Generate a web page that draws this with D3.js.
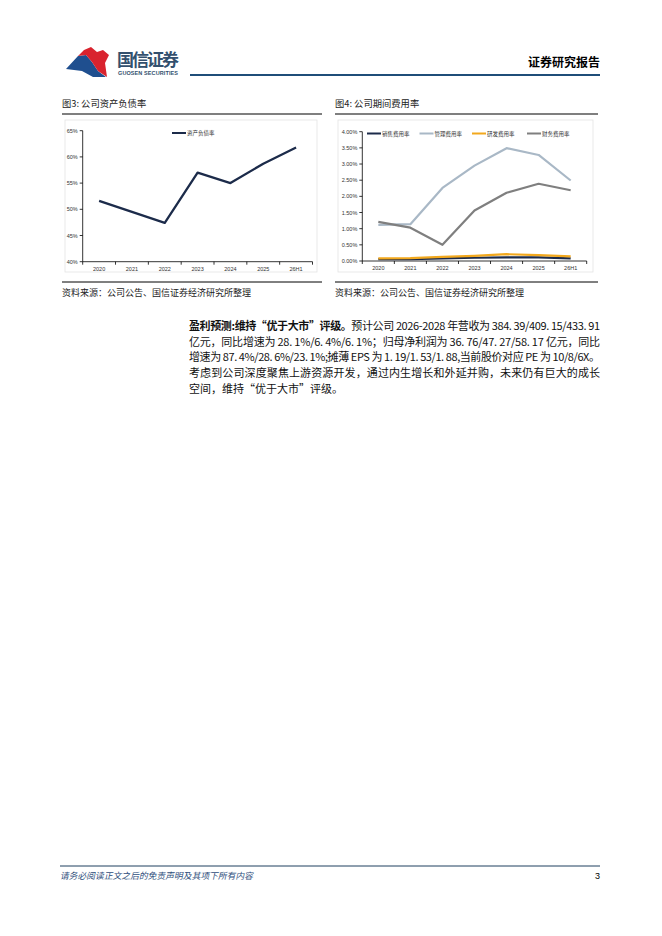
<!DOCTYPE html>
<html>
<head>
<meta charset="utf-8">
<script src="https://cdn.jsdelivr.net/npm/d3@7/dist/d3.min.js"></script>
<style>
  html, body { margin: 0; padding: 0; background: #fff; }
  svg { display: block; }
</style>
</head>
<body>
<div id="page"></div>
<script>
// chart data
var years = ["2020", "2021", "2022", "2023", "2024", "2025", "26H1"];
var debtRatio = [51.6, 49.5, 47.4, 57.0, 55.0, 58.7, 61.8];
var debtTicks = [40, 45, 50, 55, 60, 65];

var expNames = ["销售费用率", "管理费用率", "研发费用率", "财务费用率"];
var salesRate = [0.06, 0.06, 0.08, 0.10, 0.11, 0.11, 0.08];
var adminRate = [1.12, 1.14, 2.26, 2.95, 3.49, 3.28, 2.49];
var rdRate = [0.08, 0.09, 0.13, 0.16, 0.21, 0.18, 0.14];
var finRate = [1.21, 1.03, 0.50, 1.56, 2.11, 2.39, 2.19];
var expTicks = [0, 0.5, 1, 1.5, 2, 2.5, 3, 3.5, 4];
var expColors = ["#1c2b4a", "#a9b8c6", "#f2a81d", "#7f7f7f"];

var cjk = "'Noto Sans CJK SC', sans-serif";
var latin = "'Liberation Sans', Arial, sans-serif";

var svg = d3.select("#page")
  .append("svg")
  .attr("width", 662)
  .attr("height", 936);

// header logo
svg.append("path")
  .attr("fill", "#1f4f8f")
  .attr("d", "M 66 69 L 78 56 L 86 55 L 92 62 L 98 71 L 106 77 L 93 77 L 82 71 Z");
svg.append("path")
  .attr("fill", "#d9232e")
  .attr("d", "M 78 56 L 84 50 L 91 47 L 97 52 L 103 50 L 109 55 L 105 63 L 107 77 L 98 71 L 92 62 L 86 55 Z");

svg.append("text")
  .attr("x", 117)
  .attr("y", 66)
  .attr("fill", "#33506e")
  .attr("font-family", cjk)
  .attr("font-weight", "bold")
  .style("font-size", "17px")
  .attr("textLength", 62)
  .text("国信证券");

svg.append("text")
  .attr("x", 118)
  .attr("y", 75)
  .attr("fill", "#33506e")
  .attr("font-family", latin)
  .attr("font-weight", "bold")
  .style("font-size", "5.5px")
  .attr("textLength", 60)
  .text("GUOSEN SECURITIES");

svg.append("line")
  .attr("x1", 190).attr("x2", 600)
  .attr("y1", 75).attr("y2", 75)
  .attr("stroke", "#1f4e79")
  .attr("stroke-width", 2);

svg.append("text")
  .attr("x", 600)
  .attr("y", 67)
  .attr("text-anchor", "end")
  .attr("fill", "#000")
  .attr("font-family", cjk)
  .attr("font-weight", "bold")
  .style("font-size", "12px")
  .text("证券研究报告");

// titles, frames, captions
function panel(x0, x1, title) {
  svg.append("text")
    .attr("x", x0)
    .attr("y", 107)
    .attr("fill", "#222")
    .attr("font-family", cjk)
    .style("font-size", "9.3px")
    .text(title);

  svg.append("line")
    .attr("x1", x0).attr("x2", x1)
    .attr("y1", 114).attr("y2", 114)
    .attr("stroke", "#000")
    .attr("stroke-width", 1.2);

  svg.append("rect")
    .attr("x", x0 + 3)
    .attr("y", 120)
    .attr("width", x1 - x0 - 8)
    .attr("height", 152)
    .attr("fill", "none")
    .attr("stroke", "#e3e3e3")
    .attr("stroke-width", 0.8);

  svg.append("line")
    .attr("x1", x0).attr("x2", x1)
    .attr("y1", 282).attr("y2", 282)
    .attr("stroke", "#000")
    .attr("stroke-width", 1);

  svg.append("text")
    .attr("x", x0)
    .attr("y", 296)
    .attr("fill", "#222")
    .attr("font-family", cjk)
    .style("font-size", "9px")
    .text("资料来源：公司公告、国信证券经济研究所整理");
}

panel(62, 322, "图3: 公司资产负债率");
panel(335, 598, "图4: 公司期间费用率");

// axis helper
function drawAxes(g, x, y, ticks, fmt) {
  var r = x.range();
  var y0 = y.range()[0];

  g.append("line")
    .attr("x1", r[0]).attr("x2", r[1])
    .attr("y1", y0).attr("y2", y0)
    .attr("stroke", "#000")
    .attr("stroke-width", 0.8);

  g.append("line")
    .attr("x1", r[0]).attr("x2", r[0])
    .attr("y1", y.range()[1]).attr("y2", y0)
    .attr("stroke", "#000")
    .attr("stroke-width", 0.8);

  // tick marks between categories
  var bounds = x.domain().map(function(d) { return x(d); }).concat([r[1]]);
  g.selectAll(".xt")
    .data(bounds)
    .enter()
    .append("line")
    .attr("x1", function(d) { return d; })
    .attr("x2", function(d) { return d; })
    .attr("y1", y0)
    .attr("y2", y0 + 3)
    .attr("stroke", "#000")
    .attr("stroke-width", 0.8);

  g.selectAll(".xl")
    .data(x.domain())
    .enter()
    .append("text")
    .attr("x", function(d) { return x(d) + x.bandwidth() / 2; })
    .attr("y", y0 + 9)
    .attr("text-anchor", "middle")
    .attr("fill", "#333")
    .attr("font-family", latin)
    .style("font-size", "5.5px")
    .text(function(d) { return d; });

  g.selectAll(".yt")
    .data(ticks)
    .enter()
    .append("line")
    .attr("x1", r[0] - 3)
    .attr("x2", r[0])
    .attr("y1", function(d) { return y(d); })
    .attr("y2", function(d) { return y(d); })
    .attr("stroke", "#000")
    .attr("stroke-width", 0.8);

  g.selectAll(".yl")
    .data(ticks)
    .enter()
    .append("text")
    .attr("x", r[0] - 5)
    .attr("y", function(d) { return y(d) + 2; })
    .attr("text-anchor", "end")
    .attr("fill", "#333")
    .attr("font-family", latin)
    .style("font-size", "5.5px")
    .text(fmt);
}

function legendItem(g, x, y, color, label) {
  g.append("line")
    .attr("x1", x).attr("x2", x + 14)
    .attr("y1", y).attr("y2", y)
    .attr("stroke", color)
    .attr("stroke-width", 2);
  g.append("text")
    .attr("x", x + 15)
    .attr("y", y + 2)
    .attr("fill", "#333")
    .attr("font-family", cjk)
    .style("font-size", "5.5px")
    .text(label);
}

// chart 1
var g1 = svg.append("g");
var x1 = d3.scaleBand().domain(years).range([82.7, 312.5]);
var y1 = d3.scaleLinear().domain([40, 65]).range([261.7, 130.7]);
drawAxes(g1, x1, y1, debtTicks, function(d) { return d + "%"; });

var line1 = d3.line()
  .x(function(d, i) { return x1(years[i]) + x1.bandwidth() / 2; })
  .y(function(d) { return y1(d); });

g1.append("path")
  .datum(debtRatio)
  .attr("fill", "none")
  .attr("stroke", "#1c2b4a")
  .attr("stroke-width", 2.3)
  .attr("stroke-linejoin", "round")
  .attr("d", line1);

legendItem(g1, 172, 133, "#1c2b4a", "资产负债率");

// chart 2
var g2 = svg.append("g");
var x2 = d3.scaleBand().domain(years).range([362.3, 586.7]);
var y2 = d3.scaleLinear().domain([0, 4]).range([261, 131.7]);
drawAxes(g2, x2, y2, expTicks, function(d) { return d.toFixed(2) + "%"; });

var line2 = d3.line()
  .x(function(d, i) { return x2(years[i]) + x2.bandwidth() / 2; })
  .y(function(d) { return y2(d); });

var expSeries = [salesRate, adminRate, rdRate, finRate];
var drawOrder = [1, 3, 0, 2];
drawOrder.forEach(function(k) {
  g2.append("path")
    .datum(expSeries[k])
    .attr("fill", "none")
    .attr("stroke", expColors[k])
    .attr("stroke-width", 2.2)
    .attr("stroke-linejoin", "round")
    .attr("d", line2);
});

var legX = [367, 419.5, 472, 527];
expNames.forEach(function(n, i) {
  legendItem(g2, legX[i], 133.5, expColors[i], n);
});

// paragraph
var paraLines = [
  [["盈利预测:维持“优于大市”评级。", true], ["预计公司 2026-2028 年营收为 384. 39/409. 15/433. 91", false]],
  [["亿元，同比增速为 28. 1%/6. 4%/6. 1%；归母净利润为 36. 76/47. 27/58. 17 亿元，同比", false]],
  [["增速为 87. 4%/28. 6%/23. 1%;摊薄 EPS 为 1. 19/1. 53/1. 88,当前股价对应 PE 为 10/8/6X。", false]],
  [["考虑到公司深度聚焦上游资源开发，通过内生增长和外延并购，未来仍有巨大的成长", false]],
  [["空间，维持“优于大市”评级。", false]]
];

paraLines.forEach(function(parts, i) {
  var t = svg.append("text")
    .attr("x", 189)
    .attr("y", 330 + i * 15.7)
    .attr("fill", "#111")
    .attr("font-family", cjk)
    .style("font-size", "11px");
  if (i < 4) {
    t.attr("textLength", 411).attr("lengthAdjust", "spacing");
  }
  parts.forEach(function(p) {
    t.append("tspan")
      .attr("font-weight", p[1] ? "bold" : "normal")
      .text(p[0]);
  });
});

// footer
svg.append("line")
  .attr("x1", 60).attr("x2", 600)
  .attr("y1", 866).attr("y2", 866)
  .attr("stroke", "#1f3f5f")
  .attr("stroke-width", 1);

svg.append("text")
  .attr("x", 60)
  .attr("y", 879)
  .attr("fill", "#2e4d7b")
  .attr("font-family", cjk)
  .style("font-size", "8.8px")
  .attr("transform", "skewX(-12) translate(" + (879 * Math.tan(12 * Math.PI / 180)) + ",0)")
  .text("请务必阅读正文之后的免责声明及其项下所有内容");

svg.append("text")
  .attr("x", 600)
  .attr("y", 879)
  .attr("text-anchor", "end")
  .attr("fill", "#000")
  .attr("font-family", latin)
  .style("font-size", "9px")
  .text("3");
</script>
</body>
</html>
